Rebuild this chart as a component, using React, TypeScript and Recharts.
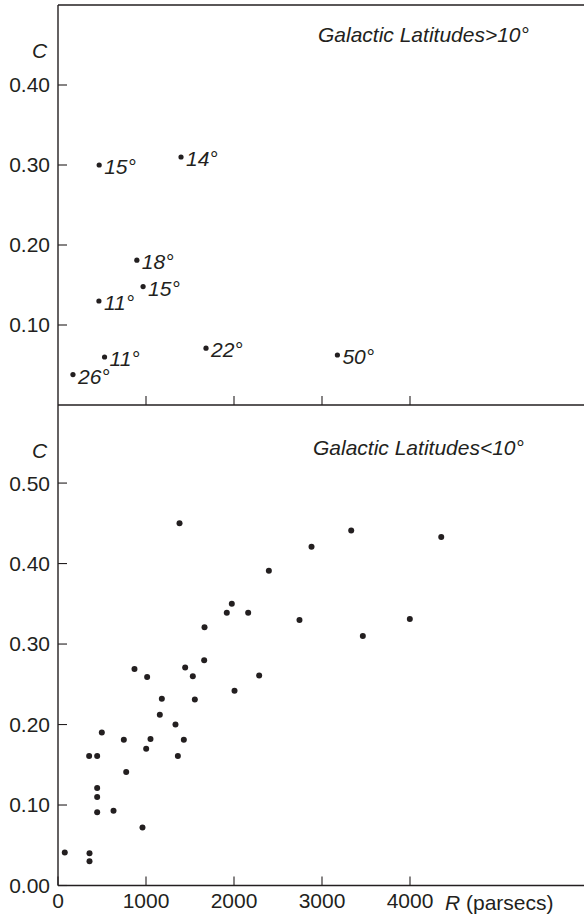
import { ReferenceLine, Scatter, ScatterChart, XAxis, YAxis } from "recharts";

const FONT = '"Liberation Sans", Arial, Helvetica, sans-serif';
const INK = "#231f20";
const FS = 21;

// |b| > 10°: distance R (pc), colour excess C, galactic latitude (deg)
const highR = [468, 1398, 896, 967, 465, 529, 170, 1682, 3175];
const highC = [0.3, 0.31, 0.181, 0.148, 0.13, 0.06, 0.038, 0.071, 0.0625];
const highLat = [15, 14, 18, 15, 11, 11, 26, 22, 50];

// |b| < 10°
const lowR = [
  1381, 2396, 1975, 1918, 2161, 2744, 1665, 869, 1013, 1445, 1532, 1661, 2286, 2006, 1180, 1555, 1157, 1335, 498, 748,
  1051, 1430, 1002, 354, 445, 1362, 775, 445, 445, 445, 631, 960, 77, 358, 358, 2881, 3332, 4355, 3464, 3998,
];
const lowC = [
  0.45, 0.391, 0.35, 0.339, 0.339, 0.33, 0.321, 0.269, 0.259, 0.271, 0.26, 0.28, 0.261, 0.242, 0.232, 0.231, 0.212, 0.2,
  0.19, 0.181, 0.182, 0.181, 0.17, 0.161, 0.161, 0.161, 0.141, 0.121, 0.11, 0.091, 0.093, 0.072, 0.041, 0.04, 0.03,
  0.421, 0.441, 0.433, 0.31, 0.331,
];

const xTicks = [0, 1000, 2000, 3000, 4000];
const topXTicks = [1000, 2000, 3000, 4000];
const topYTicks = [0.1, 0.2, 0.3, 0.4];
const bottomYTicks = [0, 0.1, 0.2, 0.3, 0.4, 0.5];

const highData = highR.map((r, i) => ({ r, c: highC[i], lat: highLat[i] }));
const lowData = lowR.map((r, i) => ({ r, c: lowC[i] }));

const axisLine = { stroke: INK, strokeWidth: 1.4 };
const tickLine = { stroke: INK, strokeWidth: 1.1 };
const tickStyle = { fill: INK, fontSize: FS, fontFamily: FONT };

const LabelledDot = (props: any) => {
  const { cx, cy, payload } = props;
  return (
    <g>
      <circle cx={cx} cy={cy} r={2.6} fill={INK} />
      <text x={cx + 5} y={cy + 9} fontSize={FS} fontStyle="italic" fontFamily={FONT} fill={INK}>
        {`${payload.lat}°`}
      </text>
    </g>
  );
};

const Dot = (props: any) => <circle cx={props.cx} cy={props.cy} r={3} fill={INK} />;

export default function App() {
  return (
    <div style={{ position: "absolute", left: 0, top: 0, width: 584, height: 916, overflow: "hidden", background: "#fff" }}>
      <div style={{ position: "absolute", left: 0, top: 0 }}>
        <ScatterChart width={600} height={406} margin={{ top: 5, right: 14, bottom: 0, left: 0 }}>
          <XAxis
            type="number"
            dataKey="r"
            domain={[0, 6000]}
            ticks={topXTicks}
            height={1}
            tickSize={-9}
            tickFormatter={() => ""}
            axisLine={axisLine}
            tickLine={tickLine}
            allowDataOverflow
          />
          <YAxis
            type="number"
            dataKey="c"
            domain={[0, 0.5]}
            ticks={topYTicks}
            width={58}
            tickSize={-9}
            tickMargin={17}
            tickFormatter={(v: number) => v.toFixed(2)}
            tick={tickStyle}
            axisLine={axisLine}
            tickLine={tickLine}
            allowDataOverflow
          />
          <ReferenceLine y={0.5} stroke={INK} strokeWidth={1.4} />
          <Scatter data={highData} shape={LabelledDot} isAnimationActive={false} />
          <text x={32} y={58} fontSize={FS} fontStyle="italic" fontFamily={FONT} fill={INK}>
            C
          </text>
          <text x={318} y={42} fontSize={FS} fontStyle="italic" fontFamily={FONT} fill={INK}>
            Galactic Latitudes&gt;10°
          </text>
        </ScatterChart>
      </div>
      <div style={{ position: "absolute", left: 0, top: 405 }}>
        <ScatterChart width={600} height={511} margin={{ top: 0, right: 14, bottom: 0, left: 0 }}>
          <XAxis
            type="number"
            dataKey="r"
            domain={[0, 6000]}
            ticks={xTicks}
            height={30.5}
            tickSize={-9}
            tickMargin={17}
            tick={tickStyle}
            axisLine={axisLine}
            tickLine={tickLine}
            allowDataOverflow
          />
          <YAxis
            type="number"
            dataKey="c"
            domain={[0, 0.597]}
            ticks={bottomYTicks}
            width={58}
            tickSize={-9}
            tickMargin={17}
            tickFormatter={(v: number) => v.toFixed(2)}
            tick={tickStyle}
            axisLine={axisLine}
            tickLine={tickLine}
            allowDataOverflow
          />
          <Scatter data={lowData} shape={Dot} isAnimationActive={false} />
          <text x={32} y={53} fontSize={FS} fontStyle="italic" fontFamily={FONT} fill={INK}>
            C
          </text>
          <text x={313} y={50} fontSize={FS} fontStyle="italic" fontFamily={FONT} fill={INK}>
            Galactic Latitudes&lt;10°
          </text>
          <text x={445} y={505} fontSize={FS} fontFamily={FONT} fill={INK}>
            <tspan fontStyle="italic">R</tspan> (parsecs)
          </text>
        </ScatterChart>
      </div>
    </div>
  );
}
